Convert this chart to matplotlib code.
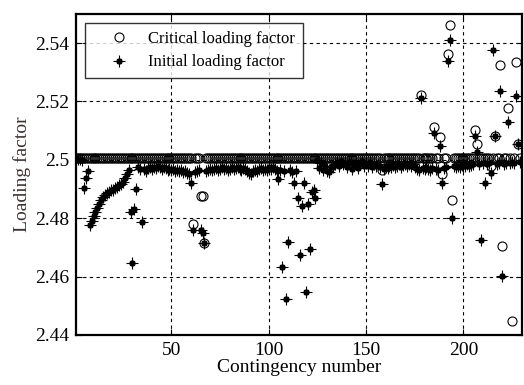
import matplotlib
matplotlib.use("Agg")
import matplotlib.pyplot as plt
from matplotlib.legend_handler import HandlerTuple

plt.rcParams['font.family'] = ['Liberation Serif', 'DejaVu Serif']

contingency = list(range(1, 230))

critical_loading_factor = [
    2.5006, 2.5006, 2.5006, 2.5006, 2.5006, 2.5006, 2.5006, 2.5006, 2.5006, 2.5006,
    2.5006, 2.5006, 2.5006, 2.5006, 2.5006, 2.5006, 2.5006, 2.5006, 2.5006, 2.5006,
    2.5006, 2.5006, 2.5006, 2.5006, 2.5006, 2.5006, 2.5006, 2.5006, 2.5006, 2.5006,
    2.5006, 2.5006, 2.5006, 2.5006, 2.5006, 2.5006, 2.5006, 2.5006, 2.5006, 2.5006,
    2.5006, 2.5006, 2.5006, 2.5006, 2.5006, 2.5006, 2.5006, 2.5006, 2.5006, 2.5006,
    2.5006, 2.5006, 2.5006, 2.5006, 2.5006, 2.5006, 2.5006, 2.5006, 2.5006, 2.5006,
    2.4780, 2.5006, 2.5006, 2.5006, 2.4877, 2.4877, 2.4716, 2.5006, 2.5006, 2.5006,
    2.5006, 2.5006, 2.5006, 2.5006, 2.5006, 2.5006, 2.5006, 2.5006, 2.5006, 2.5006,
    2.5006, 2.5006, 2.5006, 2.5006, 2.5006, 2.5006, 2.5006, 2.5006, 2.5006, 2.5006,
    2.5006, 2.5006, 2.5006, 2.5006, 2.5006, 2.5006, 2.5006, 2.5006, 2.5006, 2.5006,
    2.5006, 2.5006, 2.5006, 2.5006, 2.5006, 2.5006, 2.5006, 2.5006, 2.5006, 2.5006,
    2.5006, 2.5006, 2.5006, 2.5006, 2.5006, 2.5006, 2.5006, 2.5006, 2.5006, 2.5006,
    2.5006, 2.5006, 2.5006, 2.5006, 2.5006, 2.5006, 2.5006, 2.5006, 2.5006, 2.5006,
    2.5006, 2.5006, 2.5006, 2.5006, 2.5006, 2.5006, 2.5006, 2.5006, 2.5006, 2.5006,
    2.5006, 2.5006, 2.5006, 2.5006, 2.5006, 2.5006, 2.5006, 2.5006, 2.5006, 2.5006,
    2.5006, 2.5006, 2.5006, 2.5006, 2.5006, 2.5006, 2.5006, 2.4964, 2.5006, 2.5006,
    2.5006, 2.5006, 2.5006, 2.5006, 2.5006, 2.5006, 2.5006, 2.5006, 2.5006, 2.5006,
    2.5006, 2.5006, 2.5006, 2.5006, 2.5006, 2.5006, 2.5006, 2.5223, 2.5006, 2.5006,
    2.5006, 2.5006, 2.5006, 2.5006, 2.5112, 2.5006, 2.5006, 2.5077, 2.4953, 2.5006,
    2.5006, 2.5362, 2.5461, 2.4862, 2.5006, 2.5006, 2.5006, 2.5006, 2.5006, 2.5006,
    2.5006, 2.5006, 2.5006, 2.5006, 2.5006, 2.5103, 2.5055, 2.5006, 2.5006, 2.5006,
    2.5006, 2.5006, 2.5006, 2.4980, 2.5006, 2.5083, 2.5006, 2.5006, 2.5326, 2.4704,
    2.5006, 2.5006, 2.5179, 2.5006, 2.4449, 2.5006, 2.5335, 2.5055, 2.5006,
]

initial_loading_factor = [
    2.5006, 2.5004, 2.5002, 2.5000, 2.4902, 2.4936, 2.4961, 2.4776, 2.4792, 2.4808,
    2.4822, 2.4836, 2.4850, 2.4862, 2.4872, 2.4879, 2.4886, 2.4890, 2.4895, 2.4898,
    2.4903, 2.4907, 2.4912, 2.4916, 2.4924, 2.4938, 2.4953, 2.4964, 2.4822, 2.4645,
    2.4830, 2.4899, 2.4976, 2.4968, 2.4786, 2.4970, 2.4962, 2.4972, 2.4975, 2.4968,
    2.4976, 2.4971, 2.4978, 2.4974, 2.4969, 2.4976, 2.4972, 2.4966, 2.4970, 2.4964,
    2.4968, 2.4962, 2.4966, 2.4960, 2.4964, 2.4958, 2.4962, 2.4955, 2.4950, 2.4922,
    2.4760, 2.4958, 2.4963, 2.4966, 2.4760, 2.4750, 2.4716, 2.4962, 2.4966, 2.4970,
    2.4964, 2.4968, 2.4972, 2.4966, 2.4970, 2.4974, 2.4968, 2.4972, 2.4966, 2.4970,
    2.4974, 2.4968, 2.4972, 2.4976, 2.4970, 2.4966, 2.4972, 2.4968, 2.4960, 2.4955,
    2.4952, 2.4960, 2.4966, 2.4962, 2.4968, 2.4972, 2.4964, 2.4970, 2.4966, 2.4974,
    2.4970, 2.4976, 2.4968, 2.4962, 2.4933, 2.4966, 2.4634, 2.4962, 2.4523, 2.4719,
    2.4964, 2.4958, 2.4921, 2.4960, 2.4868, 2.4674, 2.4841, 2.4921, 2.4548, 2.4850,
    2.4693, 2.4890, 2.4898, 2.4870, 2.4999, 2.4971, 2.4988, 2.4965, 2.4980, 2.4962,
    2.4958, 2.4975, 2.4977, 2.4985, 2.4992, 2.4980, 2.4996, 2.4984, 2.4990, 2.4975,
    2.4988, 2.4994, 2.4968, 2.4982, 2.4990, 2.4972, 2.4986, 2.4995, 2.4978, 2.4988,
    2.4980, 2.4992, 2.4974, 2.4986, 2.4978, 2.4984, 2.4975, 2.4916, 2.4970, 2.4978,
    2.4972, 2.4980, 2.4976, 2.4983, 2.4975, 2.4979, 2.4984, 2.4977, 2.4981, 2.4986,
    2.4978, 2.4984, 2.4980, 2.4986, 2.4975, 2.4970, 2.4966, 2.5213, 2.4972, 2.4968,
    2.4975, 2.4970, 2.4966, 2.4973, 2.5093, 2.4968, 2.4964, 2.5048, 2.4919, 2.4972,
    2.4976, 2.5337, 2.5412, 2.4801, 2.4978, 2.4974, 2.4980, 2.4976, 2.4982, 2.4978,
    2.4980, 2.4984, 2.4978, 2.4982, 2.4986, 2.5082, 2.5027, 2.4984, 2.4724, 2.4988,
    2.4922, 2.4986, 2.4990, 2.4956, 2.5377, 2.5083, 2.4984, 2.4988, 2.5235, 2.4602,
    2.4986, 2.4990, 2.5131, 2.4988, 2.4992, 2.4990, 2.5220, 2.5055, 2.4994,
]

x_ticks = [50, 100, 150, 200]
y_ticks = [2.44, 2.46, 2.48, 2.50, 2.52, 2.54]
y_tick_labels = ['2.44', '2.46', '2.48', '2.5', '2.52', '2.54']

fig = plt.figure(figsize=(5.24, 3.85), dpi=100)
ax = fig.add_axes([0.145, 0.130, 0.851, 0.834])

h_crit, = ax.plot(contingency, critical_loading_factor, linestyle='none', marker='o',
                  markersize=6.5, markerfacecolor='none', markeredgecolor='black',
                  markeredgewidth=0.8)
h_plus, = ax.plot(contingency, initial_loading_factor, linestyle='none', marker='+',
                  markersize=8, color='black', markeredgewidth=0.8)
h_dot, = ax.plot(contingency, initial_loading_factor, linestyle='none', marker=(8, 2, 0),
                 markersize=4.5, color='black', markeredgewidth=1.2)

ax.set_xlim(1, 230)
ax.set_ylim(2.44, 2.55)
ax.set_xticks(x_ticks)
ax.set_yticks(y_ticks)
ax.set_yticklabels(y_tick_labels)

ax.grid(True, color='black', linestyle=(0, (3, 3)), linewidth=0.8)
ax.tick_params(direction='in', top=True, right=True, length=4, width=0.8,
               labelsize=14, colors='black', pad=5)
for sp in ax.spines.values():
    sp.set_linewidth(1.6)

ax.set_xlabel('Contingency number', fontsize=14, labelpad=0)
ax.set_ylabel('Loading factor', fontsize=14, color='#3a3030', labelpad=3)

leg = ax.legend([h_crit, (h_plus, h_dot)],
                ['Critical loading factor', 'Initial loading factor'],
                handler_map={tuple: HandlerTuple(ndivide=1)},
                loc='upper left', bbox_to_anchor=(0.02, 0.97), fontsize=12,
                frameon=True, fancybox=False, edgecolor='black',
                borderaxespad=0, handletextpad=0.15, borderpad=0.45,
                labelspacing=0.45, handlelength=3.2)
leg.get_frame().set_linewidth(1.0)

fig.savefig('out.png', dpi=100)
